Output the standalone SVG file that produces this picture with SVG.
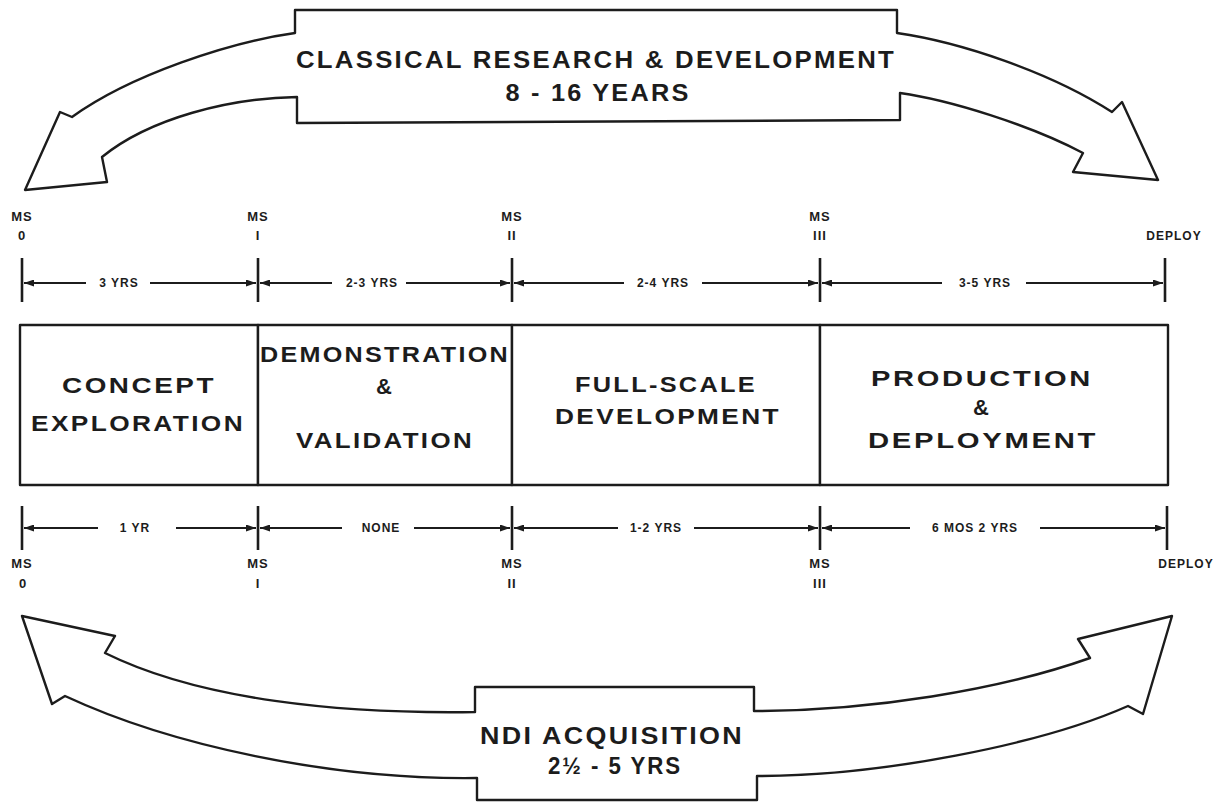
<svg xmlns="http://www.w3.org/2000/svg" width="1220" height="806" viewBox="0 0 1220 806">
  <style>
    .outline { fill: #ffffff; stroke: #1c1c1c; stroke-width: 2.4; stroke-linejoin: round; }
    .tick { stroke: #1c1c1c; stroke-width: 2.6; }
    .span { stroke: #1c1c1c; stroke-width: 1.8; fill: none; marker-end: url(#head); }
    .big { font-family: "Liberation Sans", Arial, sans-serif; font-size: 22px; font-weight: bold; fill: #1c1c1c; text-anchor: middle; letter-spacing: 2px; }
    .banner { font-family: "Liberation Sans", Arial, sans-serif; font-size: 23px; font-weight: bold; fill: #1c1c1c; text-anchor: middle; letter-spacing: 2px; }
    .small { font-family: "Liberation Sans", Arial, sans-serif; font-size: 12px; font-weight: bold; fill: #1c1c1c; text-anchor: middle; letter-spacing: 1px; }
    .ms { font-family: "Liberation Sans", Arial, sans-serif; font-size: 13px; font-weight: bold; fill: #1c1c1c; text-anchor: middle; letter-spacing: 1px; }
  </style>
  <defs>
    <marker id="head" viewBox="0 0 10 7" refX="10" refY="3.5" markerWidth="10" markerHeight="7" markerUnits="userSpaceOnUse" orient="auto">
      <path d="M0,0 L10,3.5 L0,7 z" fill="#1c1c1c"/>
    </marker>
  </defs>
  <rect width="1220" height="806" fill="#ffffff"/>

  <!-- Upper banner with its two curved arrows -->
  <g id="classical-rd">
    <path class="outline" d="M295,33 L295,10 L897,10 L897,33
      C960,42 1050,72 1112,112 L1122,102 L1158,180 L1073,172 L1083,153
      C1030,125 950,100 900,93 L900,120 L297,123 L297,97
      C230,98 150,118 102,157 L107,182 L25,190 L60,112 L72,117
      C130,75 230,42 295,33 Z"/>
    <text class="banner" x="596" y="68" textLength="600" lengthAdjust="spacingAndGlyphs">CLASSICAL RESEARCH &amp; DEVELOPMENT</text>
    <text class="banner" x="598" y="101" textLength="185" lengthAdjust="spacingAndGlyphs">8 - 16 YEARS</text>
  </g>

  <!-- Lower banner with its two curved arrows -->
  <g id="ndi-acquisition">
    <path class="outline" d="M475,712 L475,687 L754,687 L754,711
      C870,711 1000,690 1090,658 L1078,639 L1172,616 L1143,714 L1128,706
      C1040,745 880,776 757,776 L757,800 L477,800 L477,778
      C330,780 170,745 65,696 L52,704 L22,616 L115,636 L105,653
      C200,700 340,714 475,712 Z"/>
    <text class="banner" x="612" y="744" textLength="264" lengthAdjust="spacingAndGlyphs">NDI ACQUISITION</text>
    <text class="banner" x="615" y="774" textLength="134" lengthAdjust="spacingAndGlyphs">2½ - 5 YRS</text>
  </g>

  <!-- Phase boxes -->
  <g id="concept-exploration">
    <rect class="outline" x="20" y="325" width="238" height="160"/>
    <text class="big" x="139" y="393" textLength="154" lengthAdjust="spacingAndGlyphs">CONCEPT</text>
    <text class="big" x="138" y="431" textLength="214" lengthAdjust="spacingAndGlyphs">EXPLORATION</text>
  </g>
  <g id="demonstration-validation">
    <rect class="outline" x="258" y="325" width="254" height="160"/>
    <text class="big" x="385" y="362" textLength="250" lengthAdjust="spacingAndGlyphs">DEMONSTRATION</text>
    <text class="big" x="385" y="394">&amp;</text>
    <text class="big" x="385" y="448" textLength="178" lengthAdjust="spacingAndGlyphs">VALIDATION</text>
  </g>
  <g id="full-scale-development">
    <rect class="outline" x="512" y="325" width="308" height="160"/>
    <text class="big" x="666" y="392" textLength="182" lengthAdjust="spacingAndGlyphs">FULL-SCALE</text>
    <text class="big" x="668" y="424" textLength="226" lengthAdjust="spacingAndGlyphs">DEVELOPMENT</text>
  </g>
  <g id="production-deployment">
    <rect class="outline" x="820" y="325" width="348" height="160"/>
    <text class="big" x="982" y="386" textLength="222" lengthAdjust="spacingAndGlyphs">PRODUCTION</text>
    <text class="big" x="982" y="415">&amp;</text>
    <text class="big" x="983" y="448" textLength="230" lengthAdjust="spacingAndGlyphs">DEPLOYMENT</text>
  </g>

  <!-- Milestone labels, classical schedule (above) -->
  <g id="milestones-top">
    <text class="ms" x="22" y="221">MS</text><text class="ms" x="22" y="240">0</text>
    <text class="ms" x="258" y="221">MS</text><text class="ms" x="258" y="240">I</text>
    <text class="ms" x="512" y="221">MS</text><text class="ms" x="512" y="240">II</text>
    <text class="ms" x="820" y="221">MS</text><text class="ms" x="820" y="240">III</text>
    <text class="small" x="1174" y="240">DEPLOY</text>
  </g>

  <!-- Milestone labels, NDI schedule (below) -->
  <g id="milestones-bottom">
    <text class="ms" x="22" y="568">MS</text><text class="ms" x="23" y="588">0</text>
    <text class="ms" x="258" y="568">MS</text><text class="ms" x="258" y="588">I</text>
    <text class="ms" x="512" y="568">MS</text><text class="ms" x="512" y="588">II</text>
    <text class="ms" x="820" y="568">MS</text><text class="ms" x="820" y="588">III</text>
    <text class="small" x="1186" y="568">DEPLOY</text>
  </g>

  <!-- Duration labels -->
  <g id="durations">
    <text class="small" x="119" y="287">3 YRS</text>
    <text class="small" x="372" y="287">2-3 YRS</text>
    <text class="small" x="663" y="287">2-4 YRS</text>
    <text class="small" x="985" y="287">3-5 YRS</text>
    <text class="small" x="135" y="532">1 YR</text>
    <text class="small" x="381" y="532">NONE</text>
    <text class="small" x="656" y="532">1-2 YRS</text>
    <text class="small" x="975" y="532">6 MOS 2 YRS</text>
  </g>

  <!-- Milestone ticks and span arrows -->
  <g id="connectors">
    <line class="tick" x1="22" y1="258" x2="22" y2="302"/>
    <line class="tick" x1="258" y1="258" x2="258" y2="302"/>
    <line class="tick" x1="512" y1="258" x2="512" y2="302"/>
    <line class="tick" x1="820" y1="258" x2="820" y2="302"/>
    <line class="tick" x1="1165" y1="258" x2="1165" y2="302"/>

    <line class="span" x1="86" y1="283" x2="24" y2="283"/>
    <line class="span" x1="150" y1="283" x2="256" y2="283"/>
    <line class="span" x1="332" y1="283" x2="260" y2="283"/>
    <line class="span" x1="406" y1="283" x2="510" y2="283"/>
    <line class="span" x1="624" y1="283" x2="514" y2="283"/>
    <line class="span" x1="702" y1="283" x2="818" y2="283"/>
    <line class="span" x1="942" y1="283" x2="822" y2="283"/>
    <line class="span" x1="1026" y1="283" x2="1163" y2="283"/>

    <line class="tick" x1="22" y1="506" x2="22" y2="550"/>
    <line class="tick" x1="258" y1="506" x2="258" y2="550"/>
    <line class="tick" x1="512" y1="506" x2="512" y2="550"/>
    <line class="tick" x1="820" y1="506" x2="820" y2="550"/>
    <line class="tick" x1="1167" y1="506" x2="1167" y2="550"/>

    <line class="span" x1="98" y1="528" x2="24" y2="528"/>
    <line class="span" x1="176" y1="528" x2="256" y2="528"/>
    <line class="span" x1="342" y1="528" x2="260" y2="528"/>
    <line class="span" x1="414" y1="528" x2="510" y2="528"/>
    <line class="span" x1="618" y1="528" x2="514" y2="528"/>
    <line class="span" x1="694" y1="528" x2="818" y2="528"/>
    <line class="span" x1="910" y1="528" x2="822" y2="528"/>
    <line class="span" x1="1040" y1="528" x2="1165" y2="528"/>
  </g>
</svg>
